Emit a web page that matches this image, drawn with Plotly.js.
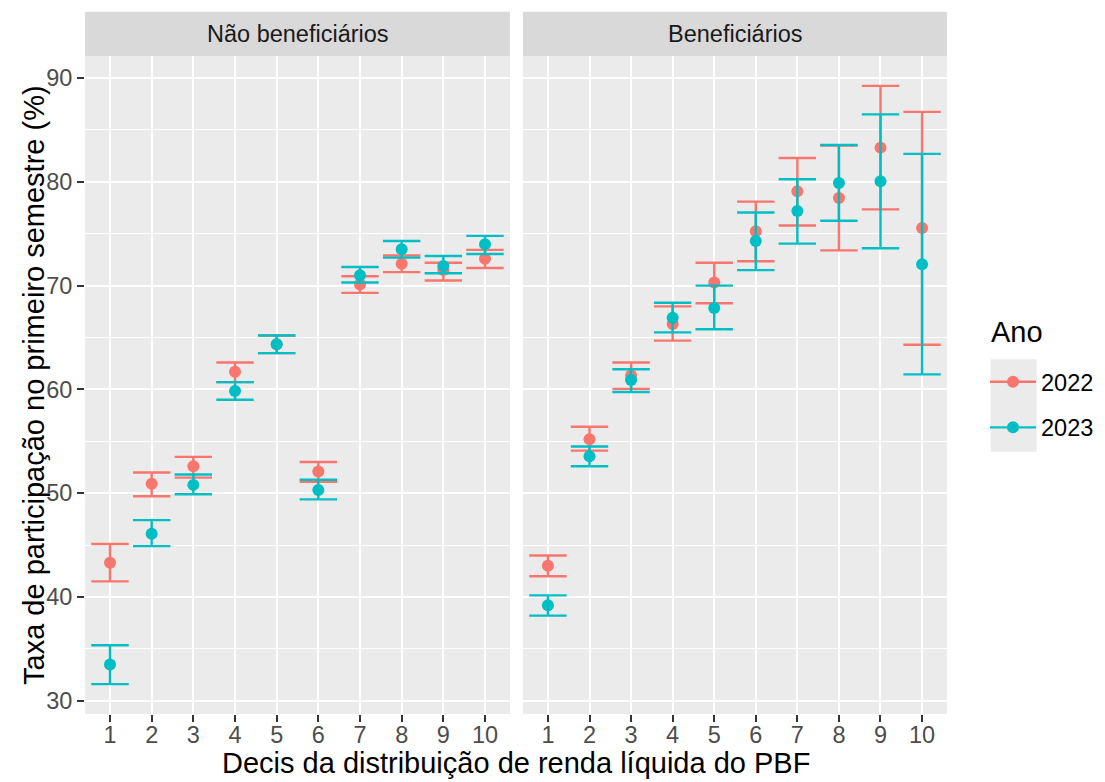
<!DOCTYPE html>
<html>
<head>
<meta charset="utf-8">
<script src="https://cdn.plot.ly/plotly-3.0.1.min.js"></script>
<style>html,body{margin:0;padding:0;background:#fff;}#chart{width:1105px;height:782px;}</style>
</head>
<body>
<div id="chart"></div>
<script>
// ---- data ----
const decis = [1, 2, 3, 4, 5, 6, 7, 8, 9, 10];
const tickLabels = ["1", "2", "3", "4", "5", "6", "7", "8", "9", "10"];
const yTicks = [30, 40, 50, 60, 70, 80, 90];
const yMinor = [35, 45, 55, 65, 75, 85];
const panels = ["Não beneficiários", "Beneficiários"];
const anos = ["2022", "2023"];

// Não beneficiários
const nb2022    = [43.3, 50.9, 52.6, 61.7, 64.35, 52.1, 70.1, 72.1, 71.5, 72.6];
const nb2022Lo  = [41.5, 49.7, 51.5, 60.7, 63.5, 51.1, 69.3, 71.3, 70.5, 71.7];
const nb2022Hi  = [45.1, 52.0, 53.5, 62.6, 65.2, 53.0, 70.9, 72.9, 72.2, 73.45];
const nb2023    = [33.5, 46.1, 50.8, 59.85, 64.35, 50.3, 71.0, 73.5, 71.9, 74.0];
const nb2023Lo  = [31.6, 44.9, 49.9, 59.0, 63.5, 49.4, 70.3, 72.7, 71.2, 73.05];
const nb2023Hi  = [35.35, 47.4, 51.8, 60.7, 65.2, 51.3, 71.8, 74.3, 72.85, 74.8];

// Beneficiários
const b2022    = [43.0, 55.2, 61.35, 66.3, 70.3, 75.25, 79.1, 78.45, 83.3, 75.55];
const b2022Lo  = [42.0, 54.1, 60.05, 64.7, 68.3, 72.35, 75.8, 73.4, 77.35, 64.3];
const b2022Hi  = [44.0, 56.4, 62.6, 68.0, 72.2, 78.1, 82.3, 83.5, 89.25, 86.75];
const b2023    = [39.2, 53.55, 60.9, 66.9, 67.85, 74.3, 77.2, 79.9, 80.05, 72.05];
const b2023Lo  = [38.2, 52.6, 59.75, 65.5, 65.8, 71.5, 74.05, 76.25, 73.6, 61.45];
const b2023Hi  = [40.15, 54.5, 61.95, 68.35, 70.0, 77.05, 80.25, 83.55, 86.5, 82.7];

// ---- styling ----
const colors = {"2022": "#F8766D", "2023": "#00BFC4"};
const FONT = "Liberation Sans, Arial, Helvetica, sans-serif";
const W = 1105, H = 782;
const TICK_SIZE = 23.5, TITLE_SIZE = 29;

function errTrace(y, lo, hi, ano, xa, ya) {
  return {
    type: "scatter", mode: "markers", x: decis, y: y,
    xaxis: xa, yaxis: ya, showlegend: false, hoverinfo: "skip",
    marker: {color: colors[ano], size: 12, line: {width: 0}},
    error_y: {
      type: "data", symmetric: false,
      array: y.map((v, i) => hi[i] - v),
      arrayminus: y.map((v, i) => v - lo[i]),
      color: colors[ano], thickness: 2.4, width: 18.7
    }
  };
}

const traces = [
  errTrace(nb2022, nb2022Lo, nb2022Hi, "2022", "x", "y"),
  errTrace(nb2023, nb2023Lo, nb2023Hi, "2023", "x", "y"),
  errTrace(b2022, b2022Lo, b2022Hi, "2022", "x2", "y2"),
  errTrace(b2023, b2023Lo, b2023Hi, "2023", "x2", "y2")
];
// legend entries
anos.forEach((a, i) => {
  traces.push({
    type: "scatter", mode: "lines+markers", x: [null], y: [null],
    xaxis: "x", yaxis: "y", name: a, legendgroup: a, showlegend: true,
    line: {color: colors[a], width: 2.4}, marker: {color: colors[a], size: 12}
  });
});

const panelTop = 56, panelBot = 714;
const yDom = [(H - panelBot) / H, (H - panelTop) / H];
const xDom1 = [85 / W, 510 / W];
const xDom2 = [523 / W, 947 / W];

function xAxis(dom, anchor) {
  return {
    domain: dom, anchor: anchor, range: [0.4, 10.6],
    tickmode: "array", tickvals: decis, ticktext: tickLabels,
    showgrid: true, gridcolor: "#FFFFFF", gridwidth: 2, zeroline: false,
    showline: false, ticks: "outside", ticklen: 7, tickwidth: 2, tickcolor: "#333333",
    ticklabelstandoff: -7,
    tickfont: {family: FONT, size: TICK_SIZE, color: "#4D4D4D"}, fixedrange: true
  };
}
function yAxis(anchor, showLabels) {
  return {
    domain: yDom, anchor: anchor, range: [28.72, 92.13],
    tickmode: "array", tickvals: yTicks, ticktext: yTicks.map(String),
    showgrid: true, gridcolor: "#FFFFFF", gridwidth: 2, zeroline: false,
    showline: false, ticks: showLabels ? "outside" : "", ticklen: 7, tickwidth: 2,
    tickcolor: "#333333", showticklabels: showLabels, ticklabelstandoff: 0,
    tickfont: {family: FONT, size: TICK_SIZE, color: "#4D4D4D"},
    minor: {tickmode: "array", tickvals: yMinor, showgrid: true, gridcolor: "#FFFFFF", gridwidth: 1, ticks: ""},
    fixedrange: true
  };
}

const stripTop = (H - 11.7) / H;
const layout = {
  width: W, height: H,
  margin: {l: 0, r: 0, t: 0, b: 0, autoexpand: false},
  paper_bgcolor: "#FFFFFF", plot_bgcolor: "#EBEBEB",
  font: {family: FONT, color: "#000000"},
  xaxis: xAxis(xDom1, "y"),
  xaxis2: xAxis(xDom2, "y2"),
  yaxis: yAxis("x", true),
  yaxis2: Object.assign(yAxis("x2", false), {matches: "y"}),
  showlegend: true,
  legend: {
    x: 985 / W, xanchor: "left", y: 1 - 360 / H, yanchor: "top",
    bgcolor: "rgba(0,0,0,0)", borderwidth: 0,
    itemwidth: 46,
    font: {family: FONT, size: TICK_SIZE, color: "#000000"},
    tracegroupgap: 12, itemclick: false, itemdoubleclick: false
  },
  shapes: [
    {type: "rect", xref: "paper", yref: "paper", x0: xDom1[0], x1: xDom1[1], y0: yDom[1], y1: stripTop,
     fillcolor: "#D9D9D9", line: {width: 0}, layer: "below"},
    {type: "rect", xref: "paper", yref: "paper", x0: xDom2[0], x1: xDom2[1], y0: yDom[1], y1: stripTop,
     fillcolor: "#D9D9D9", line: {width: 0}, layer: "below"},
    {type: "rect", xref: "paper", yref: "paper", x0: 990.7 / W, x1: 1036.7 / W, y0: 1 - 451.7 / H, y1: 1 - 359.3 / H,
     fillcolor: "#EBEBEB", line: {width: 0}, layer: "below"}
  ],
  annotations: [
    {text: panels[0], xref: "paper", yref: "paper", x: (xDom1[0] + xDom1[1]) / 2, y: (yDom[1] + stripTop) / 2,
     xanchor: "center", yanchor: "middle", showarrow: false, font: {family: FONT, size: TICK_SIZE, color: "#1A1A1A"}},
    {text: panels[1], xref: "paper", yref: "paper", x: (xDom2[0] + xDom2[1]) / 2, y: (yDom[1] + stripTop) / 2,
     xanchor: "center", yanchor: "middle", showarrow: false, font: {family: FONT, size: TICK_SIZE, color: "#1A1A1A"}},
    {text: "Ano", xref: "paper", yref: "paper", x: 989 / W, y: 1 - 332 / H,
     xanchor: "left", yanchor: "middle", showarrow: false, font: {family: FONT, size: TITLE_SIZE, color: "#000000"}},
    {text: "Decis da distribuição de renda líquida do PBF", xref: "paper", yref: "paper",
     x: (xDom1[0] + xDom2[1]) / 2, y: 1 - 763 / H, xanchor: "center", yanchor: "middle", showarrow: false,
     font: {family: FONT, size: TITLE_SIZE, color: "#000000"}},
    {text: "Taxa de participação no primeiro semestre (%)", xref: "paper", yref: "paper",
     x: 34 / W, y: (yDom[0] + yDom[1]) / 2, xanchor: "center", yanchor: "middle", textangle: -90, showarrow: false,
     font: {family: FONT, size: TITLE_SIZE, color: "#000000"}}
  ]
};

Plotly.newPlot("chart", traces, layout, {displayModeBar: false, staticPlot: true});
</script>
</body>
</html>
